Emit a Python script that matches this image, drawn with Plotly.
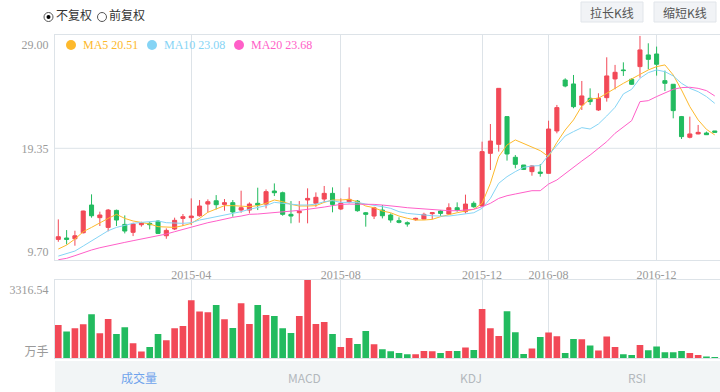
import plotly.graph_objects as go

# ---------------- data ----------------
IDX = list(range(80))
TICK_POS = [16, 34, 51, 59, 72]
TICK_TEXT = ["2015-04", "2015-08", "2015-12", "2016-08", "2016-12"]

OPEN = [10.84, 10.97, 10.90, 11.46, 14.05, 12.87, 11.96, 13.55, 12.24, 11.50,
        12.21, 12.34, 12.55, 11.18, 11.81, 12.80, 12.87, 13.05, 14.14, 14.45,
        14.11, 14.27, 13.58, 13.58, 14.21, 14.14, 15.36, 15.20, 13.18, 13.33,
        14.52, 14.21, 14.61, 15.14, 13.68, 14.36, 14.42, 13.33, 13.02, 13.58,
        13.12, 12.59, 12.40, 12.68, 12.74, 13.24, 13.49, 13.21, 13.80, 13.43,
        14.21, 13.96, 18.88, 19.72, 22.31, 18.51, 17.79, 17.17, 17.13, 17.01,
        20.97, 25.73, 25.36, 23.40, 24.02, 22.93, 24.08, 25.83, 26.67, 25.80,
        26.98, 28.07, 28.16, 25.67, 25.33, 22.31, 20.38, 20.69, 20.78, 20.97]
HIGH = [12.71, 11.71, 11.65, 13.52, 15.05, 13.43, 13.68, 13.62, 13.08, 12.40,
        12.49, 12.46, 12.65, 11.87, 12.87, 13.21, 14.67, 14.52, 14.58, 14.98,
        14.61, 14.52, 15.39, 14.30, 15.67, 15.51, 16.07, 15.30, 14.42, 14.42,
        15.61, 15.23, 15.83, 15.70, 14.67, 15.70, 14.52, 13.40, 13.89, 14.05,
        13.27, 12.90, 12.52, 12.87, 13.33, 13.40, 13.58, 14.21, 14.30, 15.02,
        14.39, 19.97, 21.62, 24.95, 22.31, 18.72, 17.79, 17.79, 17.88, 21.93,
        23.40, 25.89, 26.20, 25.64, 24.95, 24.49, 27.85, 27.14, 27.38, 25.89,
        29.85, 29.16, 28.85, 26.61, 25.33, 22.37, 22.31, 21.53, 20.91, 20.97]
LOW = [10.62, 10.37, 10.25, 11.40, 12.87, 12.09, 11.59, 12.09, 11.40, 11.15,
       12.03, 11.78, 11.34, 10.90, 11.71, 12.09, 12.18, 12.96, 13.37, 13.64,
       13.52, 12.96, 13.33, 13.27, 13.58, 13.74, 14.89, 13.05, 12.34, 12.40,
       12.34, 13.89, 14.30, 13.37, 13.58, 14.21, 13.43, 12.03, 12.74, 12.80,
       12.40, 12.34, 12.03, 12.59, 12.71, 12.71, 13.02, 13.12, 13.43, 13.27,
       13.80, 13.89, 17.32, 19.04, 18.20, 17.48, 17.32, 16.79, 16.70, 16.98,
       20.75, 25.05, 23.09, 22.93, 23.40, 22.84, 23.71, 24.86, 26.11, 25.27,
       25.95, 26.73, 26.14, 24.71, 22.15, 20.22, 20.28, 20.66, 20.59, 20.81]
CLOSE = [11.09, 10.84, 11.18, 13.49, 13.05, 13.12, 13.58, 12.65, 11.62, 12.28,
         12.37, 12.21, 11.40, 11.68, 12.62, 12.96, 13.02, 13.96, 14.36, 14.08,
         14.27, 13.40, 13.80, 14.14, 14.05, 15.30, 15.20, 13.18, 13.02, 13.46,
         14.67, 14.77, 15.14, 14.11, 14.21, 14.58, 13.52, 13.18, 13.80, 13.05,
         12.65, 12.43, 12.28, 12.81, 13.18, 13.33, 13.27, 13.80, 13.58, 14.14,
         13.89, 19.04, 20.03, 24.95, 18.82, 17.85, 17.38, 17.70, 17.01, 21.15,
         23.15, 25.17, 23.24, 24.24, 23.71, 24.02, 26.11, 26.45, 26.61, 25.33,
         28.54, 27.66, 27.20, 25.42, 22.87, 20.44, 20.69, 20.84, 20.62, 20.84]

MA5 = [9.94, 10.31, 10.87, 11.56, 11.96, 12.40, 12.80, 13.18, 12.80, 12.56,
       12.43, 12.28, 12.03, 11.96, 11.96, 12.12, 12.34, 12.80, 13.37, 13.68,
       13.99, 13.99, 13.96, 13.90, 13.99, 14.21, 14.52, 14.36, 14.11, 13.96,
       13.96, 13.99, 14.30, 14.52, 14.52, 14.58, 14.36, 13.96, 13.80, 13.49,
       13.33, 13.02, 12.81, 12.65, 12.65, 12.71, 12.96, 13.18, 13.33, 13.49,
       13.65, 14.21, 16.08, 18.57, 19.66, 20.13, 19.81, 19.44, 19.13, 18.57,
       19.90, 21.06, 22.00, 23.30, 23.96, 24.02, 24.49, 25.02, 25.42, 25.83,
       26.29, 26.67, 26.98, 27.14, 26.20, 24.80, 23.24, 22.00, 21.12, 20.60]
MA10 = [9.28, 9.53, 9.75, 10.22, 10.69, 11.15, 11.65, 11.96, 12.18, 12.34,
        12.43, 12.49, 12.56, 12.40, 12.34, 12.34, 12.40, 12.65, 12.80, 12.96,
        13.05, 13.27, 13.43, 13.65, 13.80, 13.99, 14.30, 14.21, 14.14, 14.05,
        14.05, 14.14, 14.36, 14.46, 14.30, 14.30, 14.30, 14.14, 14.05, 13.90,
        13.74, 13.43, 13.27, 13.18, 13.12, 13.05, 13.02, 13.02, 13.12, 13.21,
        13.33, 13.74, 14.67, 16.08, 16.70, 17.17, 17.57, 17.70, 17.73, 18.72,
        19.66, 20.50, 20.91, 21.28, 21.15, 21.62, 22.37, 23.18, 24.43, 24.86,
        25.89, 26.42, 26.67, 26.51, 26.11, 25.42, 24.95, 24.64, 24.18, 23.55]
MA20 = [8.94, 9.07, 9.32, 9.60, 9.85, 10.06, 10.25, 10.41, 10.56, 10.72,
        10.87, 11.03, 11.15, 11.34, 11.56, 11.78, 11.96, 12.18, 12.40, 12.56,
        12.74, 12.90, 13.02, 13.18, 13.21, 13.27, 13.37, 13.43, 13.49, 13.55,
        13.65, 13.74, 13.86, 13.99, 14.11, 14.14, 14.14, 14.14, 14.11, 14.05,
        13.99, 13.89, 13.80, 13.74, 13.68, 13.58, 13.52, 13.52, 13.52, 13.58,
        13.65, 13.89, 14.21, 14.67, 14.92, 15.08, 15.23, 15.39, 15.39, 16.01,
        16.39, 17.01, 17.57, 18.16, 18.72, 19.35, 19.97, 20.75, 21.37, 21.93,
        23.71, 23.80, 24.18, 24.55, 24.86, 25.02, 25.05, 24.95, 24.74, 24.24]

VOLUME = [1616, 1296, 1456, 1650, 2135, 1213, 1907, 1179, 1504, 728,
          325, 548, 1179, 874, 1456, 1568, 2815, 2266, 2232, 2587,
          1893, 1470, 2669, 1665, 2587, 2101, 2053, 1456, 1228, 2053,
          3800, 1665, 1762, 1179, 548, 985, 694, 1325, 679, 437,
          340, 257, 194, 194, 354, 340, 257, 354, 354, 519,
          403, 2393, 1456, 1082, 2281, 1262, 209, 471, 1034, 1247,
          1068, 257, 937, 922, 616, 374, 1053, 548, 194, 160,
          645, 388, 568, 291, 291, 354, 257, 160, 83, 49]

PRICE_TICKS = [9.70, 19.35, 29.00]
PRICE_TICK_TEXT = ["9.70", "19.35", "29.00"]
VOL_MAX_LABEL = 3316.54
VOL_UNIT = "万手"

LEGEND = [("MA5 20.51", "#fdb92c"), ("MA10 23.08", "#85d4f5"), ("MA20 23.68", "#ff5fc8")]
TABS = ["成交量", "MACD", "KDJ", "RSI"]

# ---------------- style ----------------
W, H = 720, 392
RED = "#f24957"
GREEN = "#22bb5f"
GRID = "#dde3e8"
LABEL = "#9a9a9a"
SERIF = "Liberation Serif, Noto Sans CJK SC, serif"
SANS = "Noto Sans CJK SC, Noto Sans, sans-serif"


def fx(p):
    return p / W


def fy(p):
    return 1 - p / H


X_DOMAIN = [fx(55), 1.0]
X_RANGE = [-0.397, 79.63]

fig = go.Figure()

fig.add_trace(go.Candlestick(
    x=IDX, open=OPEN, high=HIGH, low=LOW, close=CLOSE,
    increasing=dict(line=dict(color=RED, width=1), fillcolor=RED),
    decreasing=dict(line=dict(color=GREEN, width=1), fillcolor=GREEN),
    whiskerwidth=0, xaxis="x", yaxis="y", showlegend=False, hoverinfo="skip"))

for (name, col), vals in zip(LEGEND, [MA5, MA10, MA20]):
    fig.add_trace(go.Scatter(x=IDX, y=vals, mode="lines", name=name,
                             line=dict(color=col, width=1), xaxis="x", yaxis="y",
                             showlegend=False, hoverinfo="skip"))

vol_colors = [RED if c >= o else GREEN for o, c in zip(OPEN, CLOSE)]
fig.add_trace(go.Bar(x=IDX, y=VOLUME, marker=dict(color=vol_colors, line=dict(width=0)),
                     xaxis="x2", yaxis="y2", showlegend=False, hoverinfo="skip"))

tickfont = dict(family=SERIF, size=12, color=LABEL)

fig.update_layout(
    width=W, height=H, margin=dict(l=0, r=0, t=0, b=0),
    paper_bgcolor="white", plot_bgcolor="white", showlegend=False,
    bargap=0.2, boxgap=0.3,
    xaxis=dict(domain=X_DOMAIN, range=X_RANGE, anchor="y",
               tickmode="array", tickvals=TICK_POS, ticktext=TICK_TEXT,
               showgrid=True, gridcolor=GRID, gridwidth=1, zeroline=False,
               showline=True, linecolor=GRID, linewidth=1, mirror=True,
               ticks="outside", ticklen=4, tickcolor="rgba(0,0,0,0)",
               tickfont=tickfont, rangeslider=dict(visible=False)),
    yaxis=dict(domain=[fy(260), fy(35.3)], range=[8.915, 29.906], anchor="x",
               tickmode="array", tickvals=PRICE_TICKS, ticktext=PRICE_TICK_TEXT,
               showgrid=False, zeroline=False,
               showline=True, linecolor=GRID, linewidth=1,
               ticks="outside", ticklen=3, tickcolor="rgba(0,0,0,0)",
               tickfont=tickfont),
    xaxis2=dict(domain=X_DOMAIN, range=X_RANGE, anchor="y2",
                tickmode="array", tickvals=TICK_POS, showticklabels=False,
                showgrid=True, gridcolor=GRID, gridwidth=1, zeroline=False,
                showline=True, linecolor=GRID, linewidth=1, mirror=True),
    yaxis2=dict(domain=[fy(358.3), fy(280)], range=[0, 3800], anchor="x2",
                tickmode="array", tickvals=[320, VOL_MAX_LABEL],
                ticktext=[VOL_UNIT, f"{VOL_MAX_LABEL:.2f}"],
                showgrid=False, zeroline=False,
                showline=True, linecolor=GRID, linewidth=1,
                ticks="outside", ticklen=3, tickcolor="rgba(0,0,0,0)",
                tickfont=tickfont),
)

shapes = []
annotations = []

# horizontal grid line at middle price tick
shapes.append(dict(type="line", xref="x domain", yref="y", x0=0, x1=1,
                   y0=PRICE_TICKS[1], y1=PRICE_TICKS[1],
                   line=dict(color=GRID, width=1), layer="below"))

# legend (circles + text)
legend_x = [71, 152, 239]
for (txt, col), cx in zip(LEGEND, legend_x):
    shapes.append(dict(type="circle", xref="paper", yref="paper",
                       x0=fx(cx - 5), x1=fx(cx + 5), y0=fy(50), y1=fy(40),
                       fillcolor=col, line=dict(width=0)))
    annotations.append(dict(text=txt, x=fx(cx + 10), y=fy(45), xref="paper", yref="paper",
                            xanchor="left", yanchor="middle", showarrow=False,
                            font=dict(family=SERIF, size=12, color=col)))

# bottom tab strip
shapes.append(dict(type="rect", xref="paper", yref="paper", x0=fx(55), x1=1,
                   y0=0, y1=fy(361), fillcolor="#f2f5f6", line=dict(width=0), layer="below"))
tab_x = [139, 304, 471, 637]
tab_col = ["#6fa3ec", "#b3b8bd", "#b3b8bd", "#b3b8bd"]
for t, x, c in zip(TABS, tab_x, tab_col):
    annotations.append(dict(text=t, x=fx(x), y=fy(377), xref="paper", yref="paper",
                            xanchor="center", yanchor="middle", showarrow=False,
                            font=dict(family=SANS, size=12, color=c)))

# radio buttons
for cx, label, sel in [(48.5, "不复权", True), (102, "前复权", False)]:
    shapes.append(dict(type="circle", xref="paper", yref="paper",
                       x0=fx(cx - 4.5), x1=fx(cx + 4.5), y0=fy(21.5), y1=fy(12.5),
                       fillcolor="white", line=dict(color="#555555", width=1)))
    if sel:
        shapes.append(dict(type="circle", xref="paper", yref="paper",
                           x0=fx(cx - 2), x1=fx(cx + 2), y0=fy(19), y1=fy(15),
                           fillcolor="#000000", line=dict(width=0)))
    annotations.append(dict(text=label, x=fx(cx + 5), y=fy(15), xref="paper", yref="paper",
                            xanchor="left", yanchor="middle", showarrow=False,
                            font=dict(family=SANS, size=12, color="#333333")))

# buttons
for x0, x1, label in [(581, 643, "拉长K线"), (654, 716, "缩短K线")]:
    shapes.append(dict(type="rect", xref="paper", yref="paper",
                       x0=fx(x0), x1=fx(x1), y0=fy(22), y1=fy(2),
                       fillcolor="#f1f3f6", line=dict(color="#e1e5ea", width=1)))
    annotations.append(dict(text=label, x=fx((x0 + x1) / 2), y=fy(12), xref="paper", yref="paper",
                            xanchor="center", yanchor="middle", showarrow=False,
                            font=dict(family=SANS, size=12, color="#555555")))

fig.update_layout(shapes=shapes, annotations=annotations)

fig.write_html("out.html", config={"displayModeBar": False})

# remove the default page margin so the figure sits at the window's top-left
with open("out.html", "r", encoding="utf-8") as f:
    html = f.read()
html = html.replace("<head>", "<head><style>html,body{margin:0;padding:0;overflow:hidden;}</style>", 1)
with open("out.html", "w", encoding="utf-8") as f:
    f.write(html)
